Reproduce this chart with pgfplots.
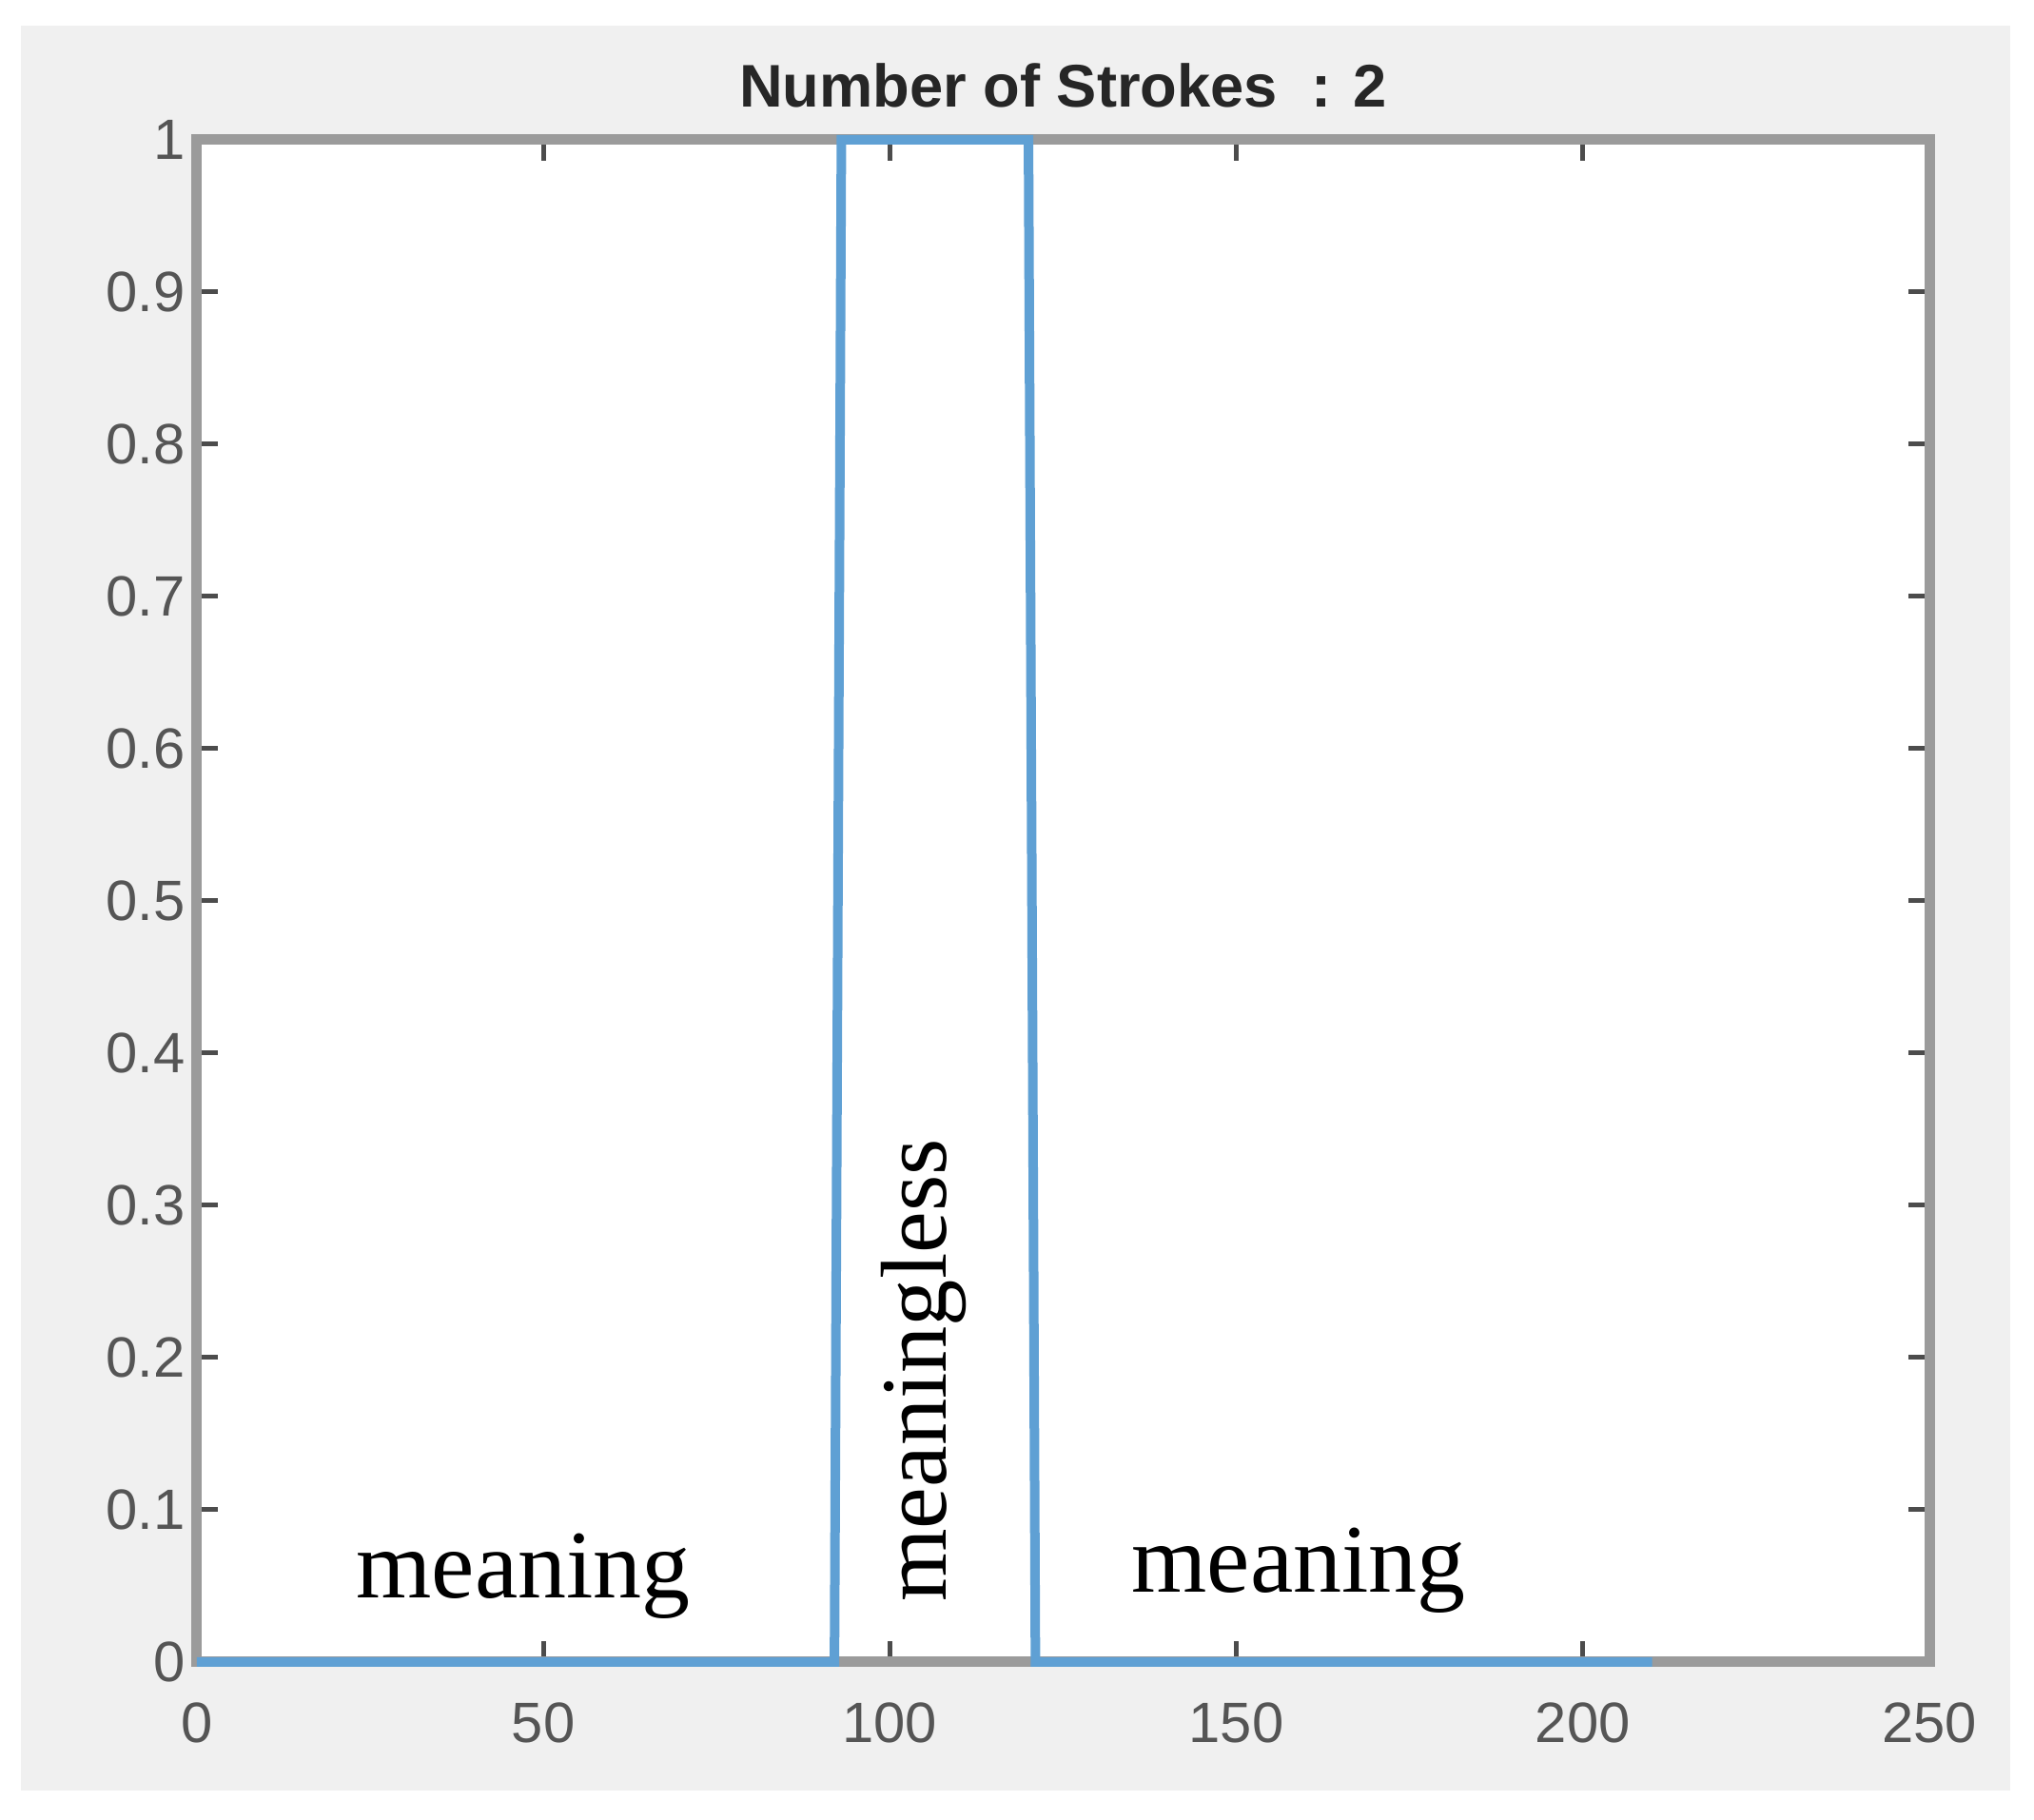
\documentclass[border=0pt]{standalone}
\usepackage{pgfplots}
\pgfplotsset{compat=1.18}
\usepackage{fontspec}
\setmainfont{Liberation Sans}
\newfontfamily\timesf{Liberation Serif}
\definecolor{figbg}{RGB}{240,240,240}
\definecolor{axgray}{RGB}{155,155,155}
\definecolor{lblgray}{RGB}{85,85,85}
\definecolor{mblue}{RGB}{95,160,212}
\begin{document}
\begin{tikzpicture}
\fill[white] (0,0) rectangle (213.8mm,191.3mm);
\fill[figbg] (2.2mm,3.1mm) rectangle (211.3mm,188.6mm);
\begin{axis}[
  at={(20.7mm,16.6mm)}, anchor=south west,
  scale only axis, width=182.1mm, height=160mm,
  xmin=0, xmax=250, ymin=0, ymax=1,
  xtick={0,50,100,150,200,250},
  ytick={0,0.1,0.2,0.3,0.4,0.5,0.6,0.7,0.8,0.9,1},
  yticklabels={0,0.1,0.2,0.3,0.4,0.5,0.6,0.7,0.8,0.9,1},
  xticklabels={0,50,100,150,200,250},
  tick align=inside,
  major tick length=2.2mm,
  every tick/.style={draw=black!70, line width=0.5mm},
  axis line style={draw=axgray, line width=1.1mm},
  axis background/.style={fill=white},
  ticklabel style={font=\fontsize{17}{20}\selectfont, text=lblgray},
  xticklabel style={yshift=-3mm},
  /pgf/number format/assume math mode=true,
  title={\fontsize{18}{21}\selectfont\bfseries Number of Strokes\ \ : 2},
  title style={anchor=base, at={(0.5,1)}, yshift=1.3mm, text=black!85},
  clip=false,
]
\addplot[mblue, line width=1.0mm, line join=miter] coordinates {
 (0,0) (92,0) (93,1) (120,1) (121,0) (210,0)
};
\node[anchor=base, inner sep=0, font=\timesf\fontsize{29}{32}\selectfont] at (axis cs:47.1,0.042) {meaning};
\node[anchor=base, inner sep=0, font=\timesf\fontsize{29}{32}\selectfont] at (axis cs:159.0,0.046) {meaning};
\node[anchor=west, rotate=90, inner sep=0, font=\timesf\fontsize{28}{31}\selectfont] at (axis cs:104.9,0.039) {meaningless};
\end{axis}
\end{tikzpicture}
\end{document}
